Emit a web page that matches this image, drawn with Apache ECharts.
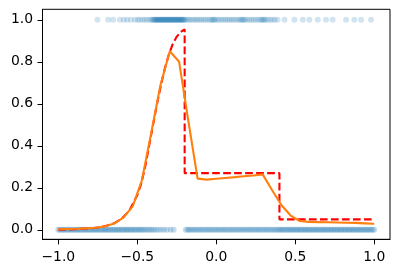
<!DOCTYPE html>
<html>
<head>
<meta charset="utf-8">
<script src="https://cdn.jsdelivr.net/npm/echarts@6/dist/echarts.min.js"></script>
<style>html,body{margin:0;padding:0;background:#fff}#c{width:400px;height:274px}</style>
</head>
<body>
<div id="c"></div>
<script>
// Observed samples with label 1 (x positions)
var onesX = [-0.752,-0.684,-0.652,-0.610,-0.585,-0.564,-0.540,-0.515,-0.497,-0.484,-0.466,-0.452,-0.437,-0.421,-0.410,
-0.401,-0.396,-0.391,-0.386,-0.381,-0.377,-0.372,-0.368,-0.363,-0.359,-0.354,-0.350,-0.345,-0.341,-0.336,-0.332,-0.327,-0.323,-0.318,-0.314,-0.309,-0.305,-0.300,-0.296,-0.291,-0.287,-0.282,-0.278,-0.273,-0.269,-0.264,-0.260,-0.255,-0.251,-0.246,-0.242,-0.237,-0.233,-0.228,-0.224,-0.219,-0.215,-0.210,-0.206,-0.201,
-0.192,-0.180,-0.169,-0.157,-0.143,-0.131,-0.120,-0.106,-0.094,-0.081,-0.068,-0.055,-0.041,-0.030,-0.022,-0.015,-0.008,0.004,0.017,0.031,0.044,0.058,0.071,0.084,0.097,0.110,0.124,0.137,0.150,0.158,0.166,0.174,0.182,0.196,0.210,0.224,0.238,0.252,0.266,0.280,0.288,0.296,0.304,0.312,0.326,0.341,0.356,0.371,0.388,
0.432,0.495,0.548,0.590,0.643,0.695,0.737,0.822,0.874,0.917,0.980];
// Observed samples with label 0 (x positions)
var zerosX = [-1.000,-0.991,-0.979,-0.970,-0.961,-0.949,-0.940,-0.931,-0.919,-0.910,-0.899,-0.890,-0.879,-0.871,-0.860,-0.851,-0.839,-0.830,-0.821,-0.810,-0.799,-0.790,-0.781,-0.769,-0.760,-0.751,-0.740,-0.729,-0.720,-0.709,-0.700,-0.691,-0.680,-0.671,-0.659,-0.650,-0.641,-0.629,-0.620,-0.611,-0.600,-0.589,-0.580,-0.569,-0.561,-0.550,-0.539,-0.531,-0.519,-0.510,-0.499,-0.488,-0.479,-0.468,-0.457,-0.446,-0.433,-0.421,-0.409,-0.396,-0.382,-0.366,-0.349,-0.331,-0.312,-0.289,-0.270,
-0.193,-0.181,-0.171,-0.160,-0.147,-0.136,-0.123,-0.111,-0.099,-0.087,-0.074,-0.062,-0.050,-0.038,-0.026,-0.013,-0.001,0.011,0.023,0.036,0.048,0.060,0.072,0.085,0.097,0.109,0.121,0.133,0.146,0.158,0.170,0.182,0.195,0.207,0.219,0.231,0.244,0.256,0.268,0.280,0.292,0.305,0.317,0.329,0.341,0.354,0.366,0.378,0.390,
0.400,0.410,0.419,0.430,0.441,0.450,0.461,0.470,0.481,0.490,0.501,0.511,0.520,0.531,0.540,0.551,0.561,0.570,0.580,0.591,0.600,0.611,0.620,0.631,0.640,0.650,0.661,0.671,0.680,0.690,0.701,0.710,0.721,0.730,0.740,0.751,0.760,0.770,0.781,0.790,0.800,0.811,0.820,0.830,0.841,0.850,0.861,0.870,0.880,0.891,0.900,0.910,0.921,0.930,0.940,0.951,0.960,0.970,0.981,0.990,1.000];
// True probability (red dashed)
var trueX = [-1.0,-0.95,-0.9,-0.85,-0.8,-0.75,-0.7,-0.65,-0.6,-0.55,-0.5,-0.475,-0.45,-0.425,-0.4,-0.375,-0.35,-0.325,-0.3,-0.275,-0.25,-0.225,-0.2,-0.2,0.4,0.4,1.0];
var trueY = [0.001,0.002,0.003,0.005,0.007,0.011,0.018,0.030,0.052,0.092,0.165,0.22,0.30,0.40,0.50,0.60,0.69,0.77,0.835,0.885,0.92,0.942,0.955,0.27,0.27,0.05,0.05];
// Estimated probability (orange)
var estX = [-1.000,-0.941,-0.882,-0.824,-0.765,-0.706,-0.647,-0.588,-0.529,-0.471,-0.412,-0.353,-0.294,-0.235,-0.176,-0.118,-0.059,0.000,0.059,0.118,0.176,0.235,0.294,0.353,0.412,0.471,0.529,0.588,0.647,0.706,0.765,0.824,0.882,0.941,1.000];
var estY = [0.003,0.004,0.005,0.007,0.010,0.016,0.030,0.058,0.112,0.235,0.460,0.690,0.850,0.800,0.515,0.244,0.239,0.243,0.247,0.251,0.255,0.259,0.264,0.190,0.118,0.068,0.042,0.038,0.037,0.036,0.035,0.034,0.033,0.031,0.029];
// Tick values and labels
var xTickValues = [-1, -0.5, 0, 0.5, 1];
var xTickLabels = ['\u22121.0', '\u22120.5', '0.0', '0.5', '1.0'];
var yTickValues = [0, 0.2, 0.4, 0.6, 0.8, 1.0];
var yTickLabels = ['0.0', '0.2', '0.4', '0.6', '0.8', '1.0'];

function zip(a, b) { return a.map(function (v, i) { return [v, b[i]]; }); }
function labelFor(vals, labs) {
  return function (v) {
    for (var i = 0; i < vals.length; i++) if (Math.abs(vals[i] - v) < 1e-9) return labs[i];
    return '';
  };
}
var font = { fontFamily: 'DejaVu Sans', fontSize: 13.9, color: '#000' };
var chart = echarts.init(document.getElementById('c'), null, { renderer: 'canvas' });
chart.setOption({
  animation: false,
  backgroundColor: '#fff',
  grid: { left: 42.5, top: 9.3, width: 347.5, height: 230, show: true, borderColor: '#000', borderWidth: 1, backgroundColor: 'transparent' },
  xAxis: {
    type: 'value', min: -1.1, max: 1.1,
    axisLine: { show: true, onZero: false, lineStyle: { color: '#000', width: 1 } },
    axisTick: { show: true, length: 5, customValues: xTickValues, lineStyle: { color: '#000', width: 1 } },
    axisLabel: Object.assign({ customValues: xTickValues, margin: 11, formatter: labelFor(xTickValues, xTickLabels) }, font),
    splitLine: { show: false }
  },
  yAxis: {
    type: 'value', min: -0.045, max: 1.05,
    axisLine: { show: true, onZero: false, lineStyle: { color: '#000', width: 1 } },
    axisTick: { show: true, length: 5, customValues: yTickValues, lineStyle: { color: '#000', width: 1 } },
    axisLabel: Object.assign({ customValues: yTickValues, margin: 9.5, formatter: labelFor(yTickValues, yTickLabels) }, font),
    splitLine: { show: false }
  },
  series: [
    { type: 'scatter', data: zerosX.map(function (x) { return [x, 0]; }), symbolSize: 6, itemStyle: { color: '#1f77b4', opacity: 0.25 }, silent: true },
    { type: 'scatter', data: onesX.map(function (x) { return [x, 1]; }), symbolSize: 6, itemStyle: { color: '#1f77b4', opacity: 0.2 }, silent: true },
    { type: 'line', data: zip(trueX, trueY), showSymbol: false, lineStyle: { color: '#ff0000', width: 2.1, type: [7.7, 3.3] } },
    { type: 'line', data: zip(estX, estY), showSymbol: false, lineStyle: { color: '#ff7f0e', width: 2.1 } }
  ]
});
</script>
</body>
</html>
